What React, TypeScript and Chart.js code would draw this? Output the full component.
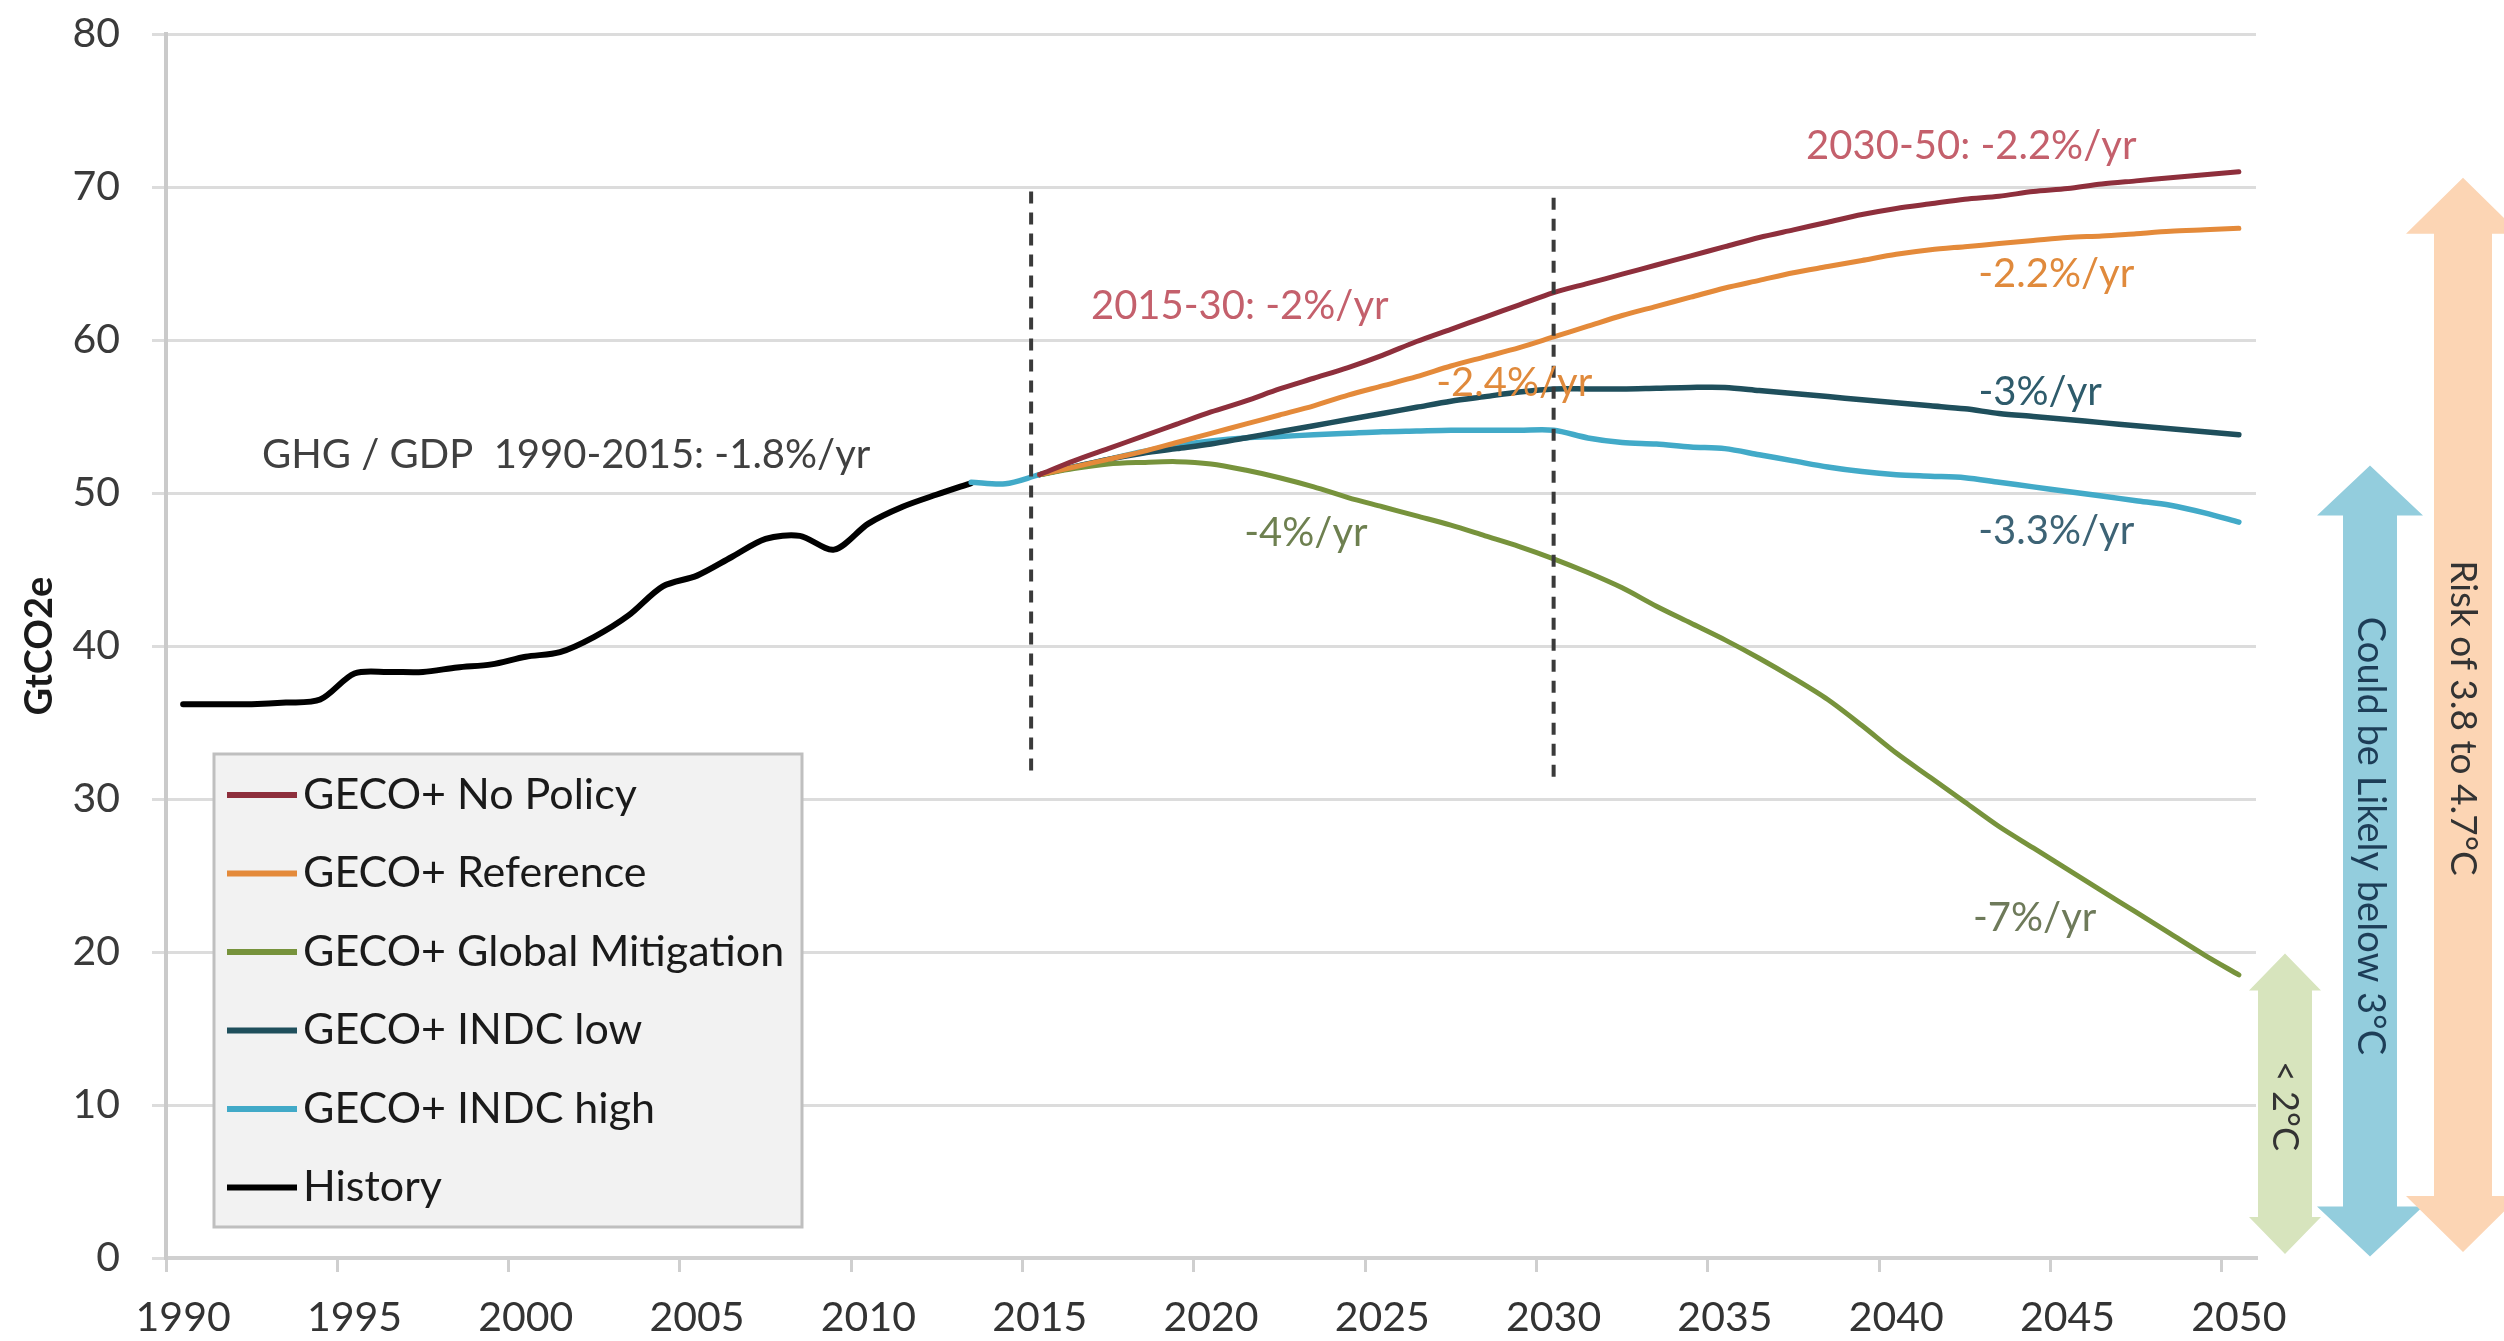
import React, { useEffect, useRef } from 'react';
import { Chart, registerables } from 'chart.js';

Chart.register(...registerables);

// ---------------- DATA ----------------
const years = [
  '1990', '1991', '1992', '1993', '1994', '1995', '1996', '1997', '1998', '1999',
  '2000', '2001', '2002', '2003', '2004', '2005', '2006', '2007', '2008', '2009',
  '2010', '2011', '2012', '2013', '2014', '2015', '2016', '2017', '2018', '2019',
  '2020', '2021', '2022', '2023', '2024', '2025', '2026', '2027', '2028', '2029',
  '2030', '2031', '2032', '2033', '2034', '2035', '2036', '2037', '2038', '2039',
  '2040', '2041', '2042', '2043', '2044', '2045', '2046', '2047', '2048', '2049',
  '2050',
];

const historyStartYear = 1990;
const historyValues = [
  36.2, 36.2, 36.2, 36.3, 36.5, 38.2, 38.3, 38.3, 38.6, 38.8,
  39.3, 39.6, 40.6, 42.0, 43.9, 44.6, 45.8, 47.0, 47.2, 46.3,
  48.0, 49.1, 49.9, 50.65,
];

const projectionStartYear = 2015;
const noPolicyValues = [
  51.2, 52.1, 52.9, 53.7, 54.5, 55.3, 56.0, 56.8, 57.5, 58.2,
  59.0, 59.9, 60.7, 61.5, 62.3, 63.1, 63.7, 64.3, 64.9, 65.5,
  66.1, 66.7, 67.2, 67.7, 68.2, 68.6, 68.9, 69.2, 69.4, 69.7,
  69.9, 70.2, 70.4, 70.6, 70.8, 71.0,
];
const referenceValues = [
  51.2, 51.7, 52.2, 52.7, 53.3, 53.9, 54.5, 55.1, 55.7, 56.4,
  57.0, 57.6, 58.3, 58.9, 59.5, 60.2, 60.9, 61.6, 62.2, 62.8,
  63.4, 63.9, 64.4, 64.8, 65.2, 65.6, 65.9, 66.1, 66.3, 66.5,
  66.7, 66.8, 66.95, 67.1, 67.2, 67.3,
];
const globalMitigationValues = [
  51.2, 51.6, 51.9, 52.0, 52.05, 51.9, 51.5, 51.0, 50.4, 49.7,
  49.1, 48.5, 47.9, 47.2, 46.5, 45.7, 44.8, 43.8, 42.6, 41.5,
  40.4, 39.2, 37.9, 36.5, 34.8, 33.0, 31.4, 29.8, 28.2, 26.8,
  25.4, 24.0, 22.6, 21.2, 19.8, 18.5,
];
const indcLowValues = [
  51.2, 51.7, 52.2, 52.6, 52.9, 53.2, 53.6, 54.0, 54.4, 54.8,
  55.2, 55.6, 56.0, 56.3, 56.6, 56.8, 56.8, 56.8, 56.85, 56.9,
  56.9, 56.7, 56.5, 56.3, 56.1, 55.9, 55.7, 55.5, 55.2, 55.0,
  54.8, 54.6, 54.4, 54.2, 54.0, 53.8,
];
const indcHighStartYear = 2013;
const indcHighValues = [
  50.7, 50.6,
  51.2, 51.7, 52.2, 52.7, 53.1, 53.4, 53.6, 53.7, 53.8, 53.9,
  54.0, 54.05, 54.1, 54.1, 54.1, 54.1, 53.6, 53.3, 53.2, 53.0,
  52.9, 52.5, 52.1, 51.7, 51.4, 51.2, 51.1, 51.0, 50.7, 50.4,
  50.1, 49.8, 49.5, 49.2, 48.7, 48.1,
];

const seriesLabels = [
  'GECO+ No Policy',
  'GECO+ Reference',
  'GECO+ Global Mitigation',
  'GECO+ INDC low',
  'GECO+ INDC high',
  'History',
];

const yAxisTitle = 'GtCO2e';
const yMin = 0;
const yMax = 80;
const yStep = 10;

// rate annotations (text, year, value)
const rateLabels = [
  'GHG / GDP  1990-2015: -1.8%/yr',
  '2015-30: -2%/yr',
  '-2.4%/yr',
  '-4%/yr',
  '2030-50: -2.2%/yr',
  '-2.2%/yr',
  '-3%/yr',
  '-3.3%/yr',
  '-7%/yr',
];
const rateLabelYears = [2001.18, 2020.84, 2028.85, 2022.77, 2042.19, 2044.67, 2044.2, 2044.67, 2044.04];
const rateLabelValues = [52.5, 62.2, 57.2, 47.4, 72.7, 64.3, 56.6, 47.5, 22.2];

// dashed period markers
const periodMarkerYears = [2014.75, 2030];
const periodMarkerTops = [69.7, 69.3];
const periodMarkerBottoms = [31.5, 30.9];

// temperature range arrows
const rangeLabels = ['< 2°C', 'Could be Likely below 3°C', 'Risk of 3.8 to 4.7°C'];
const rangeTops = [19.9, 51.8, 70.6];
const rangeBottoms = [0.26, 0.1, 0.4];

// ---------------- STYLES ----------------
const FONT = 'Lato, "Open Sans", "DejaVu Sans", sans-serif';
const seriesColors = ['#8e2f3c', '#e48a3a', '#77933c', '#1f4f5c', '#42aac8', '#000000'];
const seriesWidths = [5, 5, 5, 5.5, 5.5, 6];
const rateLabelColors = ['#404040', '#c4606c', '#e08a3c', '#6e8050', '#c4606c', '#e08a3c', '#2e5b6b', '#3d6375', '#6e7a5a'];
const rangeFills = ['#d7e4bd', '#93cddd', '#fcd5b4'];
const rangeTextColors = ['#333333', '#1d3d57', '#333333'];
const rangeFontSizes = [36, 38, 37];
const rangeOffsetX = [29, 114, 207]; // from chart-area right edge
const rangeShaftHalf = [27, 27, 29];
const rangeHeadHalf = [36, 53, 57];
const rangeHeadLen = [37, 50, 56];
const rangeTextCenterY = [1106, 836, 718];

function alignSeries(startYear: number, values: number[]) {
  const offset = startYear - Number(years[0]);
  return years.map((_, i) => (i >= offset && i - offset < values.length ? values[i - offset] : null));
}

const overlayPlugin = {
  id: 'overlay',
  afterDatasetsDraw(chart: any) {
    const { ctx, scales } = chart;
    const xs = scales.x;
    const ys = scales.y;
    ctx.save();
    ctx.strokeStyle = '#3a3a3a';
    ctx.lineWidth = 4;
    ctx.setLineDash([12, 9]);
    periodMarkerYears.forEach((yr, i) => {
      const x = xs.getPixelForValue(yr - Number(years[0]));
      ctx.beginPath();
      ctx.moveTo(x, ys.getPixelForValue(periodMarkerTops[i]));
      ctx.lineTo(x, ys.getPixelForValue(periodMarkerBottoms[i]));
      ctx.stroke();
    });
    ctx.restore();
  },
  afterDraw(chart: any) {
    const { ctx, scales, chartArea } = chart;
    const xs = scales.x;
    const ys = scales.y;

    // rate annotations
    ctx.save();
    ctx.textAlign = 'center';
    ctx.textBaseline = 'middle';
    ctx.font = `40px ${FONT}`;
    rateLabels.forEach((t, i) => {
      ctx.fillStyle = rateLabelColors[i];
      const x = xs.getPixelForValue(rateLabelYears[i] - Number(years[0]));
      const y = ys.getPixelForValue(rateLabelValues[i]);
      ctx.fillText(t, x, y);
    });
    ctx.restore();

    // legend box
    ctx.save();
    const lx = 214, ly = 754, lw = 588, lh = 473;
    ctx.fillStyle = '#f2f2f2';
    ctx.fillRect(lx, ly, lw, lh);
    ctx.strokeStyle = '#bfbfbf';
    ctx.lineWidth = 3;
    ctx.strokeRect(lx, ly, lw, lh);
    ctx.font = `43px ${FONT}`;
    ctx.textAlign = 'left';
    ctx.textBaseline = 'middle';
    chart.data.datasets.forEach((ds: any, i: number) => {
      const y = 795 + i * 78.5;
      ctx.strokeStyle = ds.borderColor;
      ctx.lineWidth = 6;
      ctx.beginPath();
      ctx.moveTo(227, y);
      ctx.lineTo(297, y);
      ctx.stroke();
      ctx.fillStyle = '#1a1a1a';
      ctx.fillText(ds.label, 303, y);
    });
    ctx.restore();

    // range arrows
    rangeLabels.forEach((label, i) => {
      const cx = chartArea.right + rangeOffsetX[i];
      const top = ys.getPixelForValue(rangeTops[i]);
      const bottom = ys.getPixelForValue(rangeBottoms[i]);
      const s = rangeShaftHalf[i];
      const h = rangeHeadHalf[i];
      const hl = rangeHeadLen[i];
      ctx.save();
      ctx.fillStyle = rangeFills[i];
      ctx.beginPath();
      ctx.moveTo(cx, top);
      ctx.lineTo(cx + h, top + hl);
      ctx.lineTo(cx + s, top + hl);
      ctx.lineTo(cx + s, bottom - hl);
      ctx.lineTo(cx + h, bottom - hl);
      ctx.lineTo(cx, bottom);
      ctx.lineTo(cx - h, bottom - hl);
      ctx.lineTo(cx - s, bottom - hl);
      ctx.lineTo(cx - s, top + hl);
      ctx.lineTo(cx - h, top + hl);
      ctx.closePath();
      ctx.fill();
      ctx.translate(cx, rangeTextCenterY[i]);
      ctx.rotate(Math.PI / 2);
      ctx.font = `${rangeFontSizes[i]}px ${FONT}`;
      ctx.fillStyle = rangeTextColors[i];
      ctx.textAlign = 'center';
      ctx.textBaseline = 'middle';
      ctx.fillText(label, 0, 0);
      ctx.restore();
    });
  },
};

export default function App() {
  const canvasRef = useRef<HTMLCanvasElement | null>(null);

  useEffect(() => {
    document.body.style.margin = '0';
    document.body.style.overflow = 'hidden';
    const canvas = canvasRef.current;
    if (!canvas) return;

    const seriesData = [
      alignSeries(projectionStartYear, noPolicyValues),
      alignSeries(projectionStartYear, referenceValues),
      alignSeries(projectionStartYear, globalMitigationValues),
      alignSeries(projectionStartYear, indcLowValues),
      alignSeries(indcHighStartYear, indcHighValues),
      alignSeries(historyStartYear, historyValues),
    ];

    const chart = new Chart(canvas, {
      type: 'line',
      data: {
        labels: years,
        datasets: seriesLabels.map((label, i) => ({
          label,
          data: seriesData[i],
          borderColor: seriesColors[i],
          backgroundColor: seriesColors[i],
          borderWidth: seriesWidths[i],
          pointRadius: 0,
          tension: 0.3,
          fill: false,
          spanGaps: false,
          borderCapStyle: 'round',
          borderJoinStyle: 'round',
        })),
      },
      options: {
        animation: false,
        responsive: false,
        devicePixelRatio: 1,
        layout: { padding: { left: 0, top: 34, right: 248, bottom: 0 } },
        plugins: {
          legend: { display: false },
          tooltip: { enabled: false },
        },
        scales: {
          x: {
            type: 'category',
            offset: true,
            grid: {
              offset: true,
              drawOnChartArea: false,
              drawTicks: true,
              tickLength: 14,
              lineWidth: 3,
              color: (c: any) => (c.index % 5 === 0 ? '#cfcfcf' : 'rgba(0,0,0,0)'),
            },
            border: { display: true, color: '#d0d0d0', width: 4 },
            ticks: {
              autoSkip: false,
              maxRotation: 0,
              minRotation: 0,
              padding: 21,
              color: '#333333',
              font: { family: FONT, size: 41 },
              callback: (_v: any, i: number) => (i % 5 === 0 ? years[i] : ''),
            },
            afterFit: (scale: any) => {
              scale.height = 83;
              scale.paddingLeft = 0;
              scale.paddingRight = 0;
            },
          },
          y: {
            min: yMin,
            max: yMax,
            ticks: {
              stepSize: yStep,
              padding: 32,
              color: '#3a3a3a',
              font: { family: FONT, size: 41 },
            },
            grid: {
              color: '#dcdcdc',
              lineWidth: 3,
              tickLength: 14,
              drawTicks: true,
            },
            border: { display: true, color: '#cacaca', width: 4 },
            title: {
              display: true,
              text: yAxisTitle,
              color: '#1a1a1a',
              font: { family: FONT, size: 38, weight: 'bold' },
              padding: { top: 17, bottom: 0 },
            },
            afterFit: (scale: any) => {
              scale.width = 166;
              scale.paddingTop = 0;
              scale.paddingBottom = 0;
            },
          },
        },
      },
      plugins: [overlayPlugin],
    } as any);

    return () => {
      chart.destroy();
    };
  }, []);

  return (
    <div style={{ width: 2504, height: 1341, background: '#ffffff' }}>
      <canvas
        ref={canvasRef}
        width={2504}
        height={1341}
        style={{ display: 'block', width: 2504, height: 1341 }}
      />
    </div>
  );
}
